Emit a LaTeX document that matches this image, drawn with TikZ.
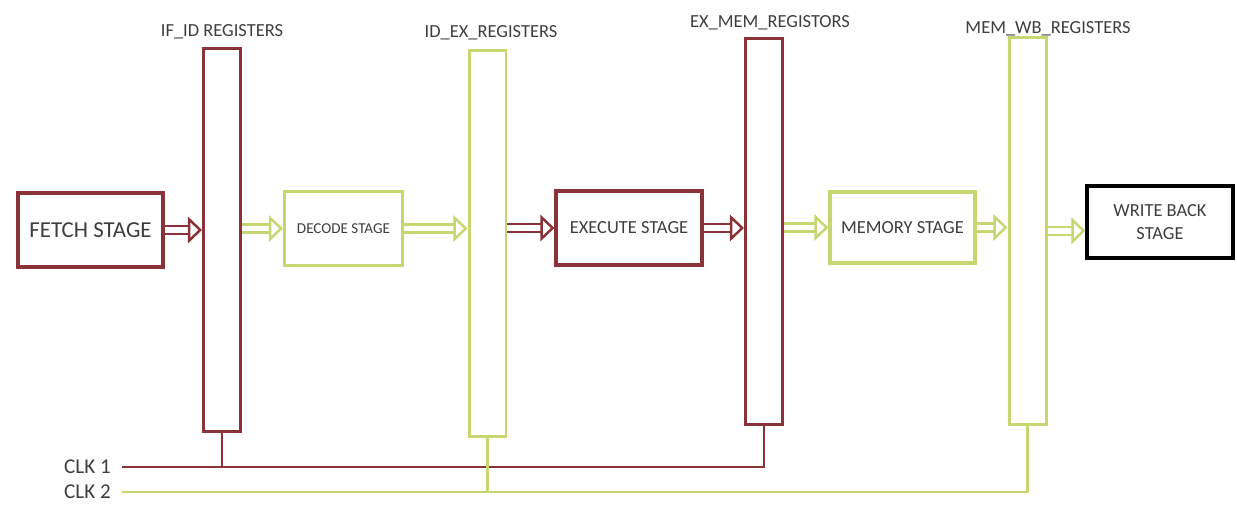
\documentclass[tikz,border=0pt]{standalone}
\usepackage{fontspec}
\setmainfont{Carlito}
\usetikzlibrary{arrows.meta}
\definecolor{regred}{RGB}{138,50,56}
\definecolor{reggreen}{RGB}{198,214,112}
\definecolor{txtgray}{RGB}{62,62,62}
\tikzset{
	stage/.style={draw,line width=1.8pt,minimum height=1.48cm,inner sep=2pt,text=txtgray,font=\fontsize{10.5}{13}\selectfont},
	regbox/.style={draw,line width=1.7pt,minimum width=0.74cm,inner sep=0pt},
	reglabel/.style={text=txtgray,inner sep=1pt,font=\fontsize{10.5}{12}\selectfont},
	clklabel/.style={text=txtgray,inner ysep=1pt,inner xsep=6pt,font=\fontsize{12}{14}\selectfont},
	hollow/.style={draw=#1,double=white,double distance=3.2pt,line width=1.4pt,-{Triangle[open,length=8pt,width=15pt]}},
	clkline/.style={draw=#1,line width=1.4pt}
}
\begin{document}
\begin{tikzpicture}[x=0.02cm,y=-0.02cm]
	\useasboundingbox (0,0) rectangle (1237,504);

	\node[stage,draw=regred,minimum width=2.9cm,font=\fontsize{13}{15}\selectfont] (fetch) at (90.5,230) {FETCH STAGE};
	\node[stage,draw=reggreen,minimum width=2.36cm,font=\fontsize{8.6}{10}\selectfont] (decode) at (343.5,228.5) {DECODE STAGE};
	\node[stage,draw=regred,minimum width=2.92cm] (execute) at (629,228) {EXECUTE STAGE};
	\node[stage,draw=reggreen,minimum width=2.9cm,minimum height=1.42cm] (memory) at (902.5,227.5) {MEMORY STAGE};
	\node[stage,draw=black,minimum width=2.92cm,minimum height=1.44cm,align=center] (wb) at (1160,222) {WRITE BACK\\STAGE};

	\node[regbox,draw=regred,minimum height=7.68cm] (ifid) at (222,240) {};
	\node[regbox,draw=reggreen,minimum height=7.74cm] (idex) at (487.5,243.5) {};
	\node[regbox,draw=regred,minimum height=7.74cm] (exmem) at (764,231.5) {};
	\node[regbox,draw=reggreen,minimum height=7.76cm] (memwb) at (1027.5,231) {};

	\node[reglabel] (ifidlbl) at (222,32) {IF\_ID REGISTERS};
	\node[reglabel] (idexlbl) at (491,33) {ID\_EX\_REGISTERS};
	\node[reglabel] (exmemlbl) at (770,23) {EX\_MEM\_REGISTORS};
	\node[reglabel] (memwblbl) at (1048,29) {MEM\_WB\_REGISTERS};

	\draw[hollow=regred] (fetch.east) -- (fetch.east -| ifid.west);
	\draw[hollow=reggreen] (ifid.east |- decode.west) -- (decode.west);
	\draw[hollow=reggreen] (decode.east) -- (decode.east -| idex.west);
	\draw[hollow=regred] (idex.east |- execute.west) -- (execute.west);
	\draw[hollow=regred] (execute.east) -- (execute.east -| exmem.west);
	\draw[hollow=reggreen] (exmem.east |- memory.west) -- (memory.west);
	\draw[hollow=reggreen] (memory.east) -- (memory.east -| memwb.west);
	\draw[hollow=reggreen] ([yshift=-5]memwb.east |- wb.west) -- ([yshift=-5]wb.west);

	\node[clklabel] (clk1) at (87.5,467) {CLK 1};
	\node[clklabel] (clk2) at (87.5,492) {CLK 2};
	\draw[clkline=regred] (clk1.east) -- (clk1.east -| exmem.south) -- (exmem.south);
	\draw[clkline=regred] (ifid.south) -- (ifid.south |- clk1.east);
	\draw[clkline=reggreen] (clk2.east) -- (clk2.east -| memwb.south) -- (memwb.south);
	\draw[clkline=reggreen] (idex.south) -- (idex.south |- clk2.east);
\end{tikzpicture}
\end{document}
